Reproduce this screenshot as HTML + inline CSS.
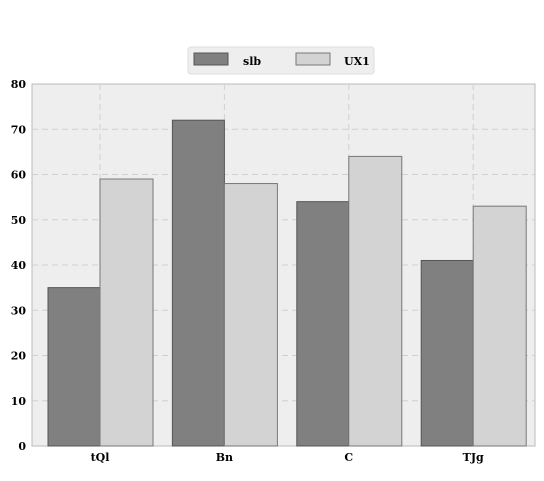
<!DOCTYPE html>
<html><head><meta charset="utf-8"><style>
body{margin:0;background:#fff}
text{font-family:"DejaVu Serif","Liberation Serif",serif;font-weight:bold;font-size:11px;fill:#000}
</style></head><body>
<svg id="chart" width="544" height="476" xmlns="http://www.w3.org/2000/svg">
<rect x="32" y="84" width="503" height="362" fill="#eeeeee" stroke="#bbbbbb"/>
<g id="grid"></g><g id="bars"></g><g id="axes"></g>
<g>
<rect x="188" y="47" width="186" height="27" rx="3" fill="#eeeeee" stroke="#dddddd"/>
<rect x="194" y="53" width="34" height="12" fill="#808080" stroke="#555"/>
<text x="243" y="65" font-size="13">slb</text>
<rect x="296" y="53" width="34" height="12" fill="#d3d3d3" stroke="#777"/>
<text x="344" y="65" font-size="13">UX1</text>
</g>
</svg>
<script>
const categories=["tQl","Bn","C","TJg"];
const slb=[35,72,54,41];
const uxi=[59,58,64,53];
const yTicks=[0,10,20,30,40,50,60,70,80];
const NS="http://www.w3.org/2000/svg";
const yScale=v=>446-v*4.525;
const xc=i=>100+i*124.4;
function mk(tag,attrs,parent){const e=document.createElementNS(NS,tag);for(const k in attrs)e.setAttribute(k,attrs[k]);document.getElementById(parent).appendChild(e);return e;}
yTicks.forEach(t=>{
 if(t>0&&t<80){const g=mk('line',{x1:32,x2:535,y1:yScale(t),y2:yScale(t),stroke:'#d0d0d0','stroke-dasharray':'6,4'},'grid');
 
 }
 const l=mk('text',{x:26,y:yScale(t)+4,'text-anchor':'end'},'axes');l.textContent=t;
 
 
});
categories.forEach((c,i)=>{
 const g=mk('line',{x1:xc(i),x2:xc(i),y1:84,y2:446,stroke:'#d0d0d0','stroke-dasharray':'6,4'},'grid');
 
 
 const a=mk('rect',{x:xc(i)-52,y:yScale(slb[i]),width:52,height:446-yScale(slb[i]),fill:'#808080',stroke:'#555'},'bars');
 
 
 const b=mk('rect',{x:xc(i),y:yScale(uxi[i]),width:53,height:446-yScale(uxi[i]),fill:'#d3d3d3',stroke:'#777'},'bars');
 
 
 const l=mk('text',{x:xc(i),y:461,'text-anchor':'middle'},'axes');l.textContent=c;
 
 
});
</script>
</body></html>
